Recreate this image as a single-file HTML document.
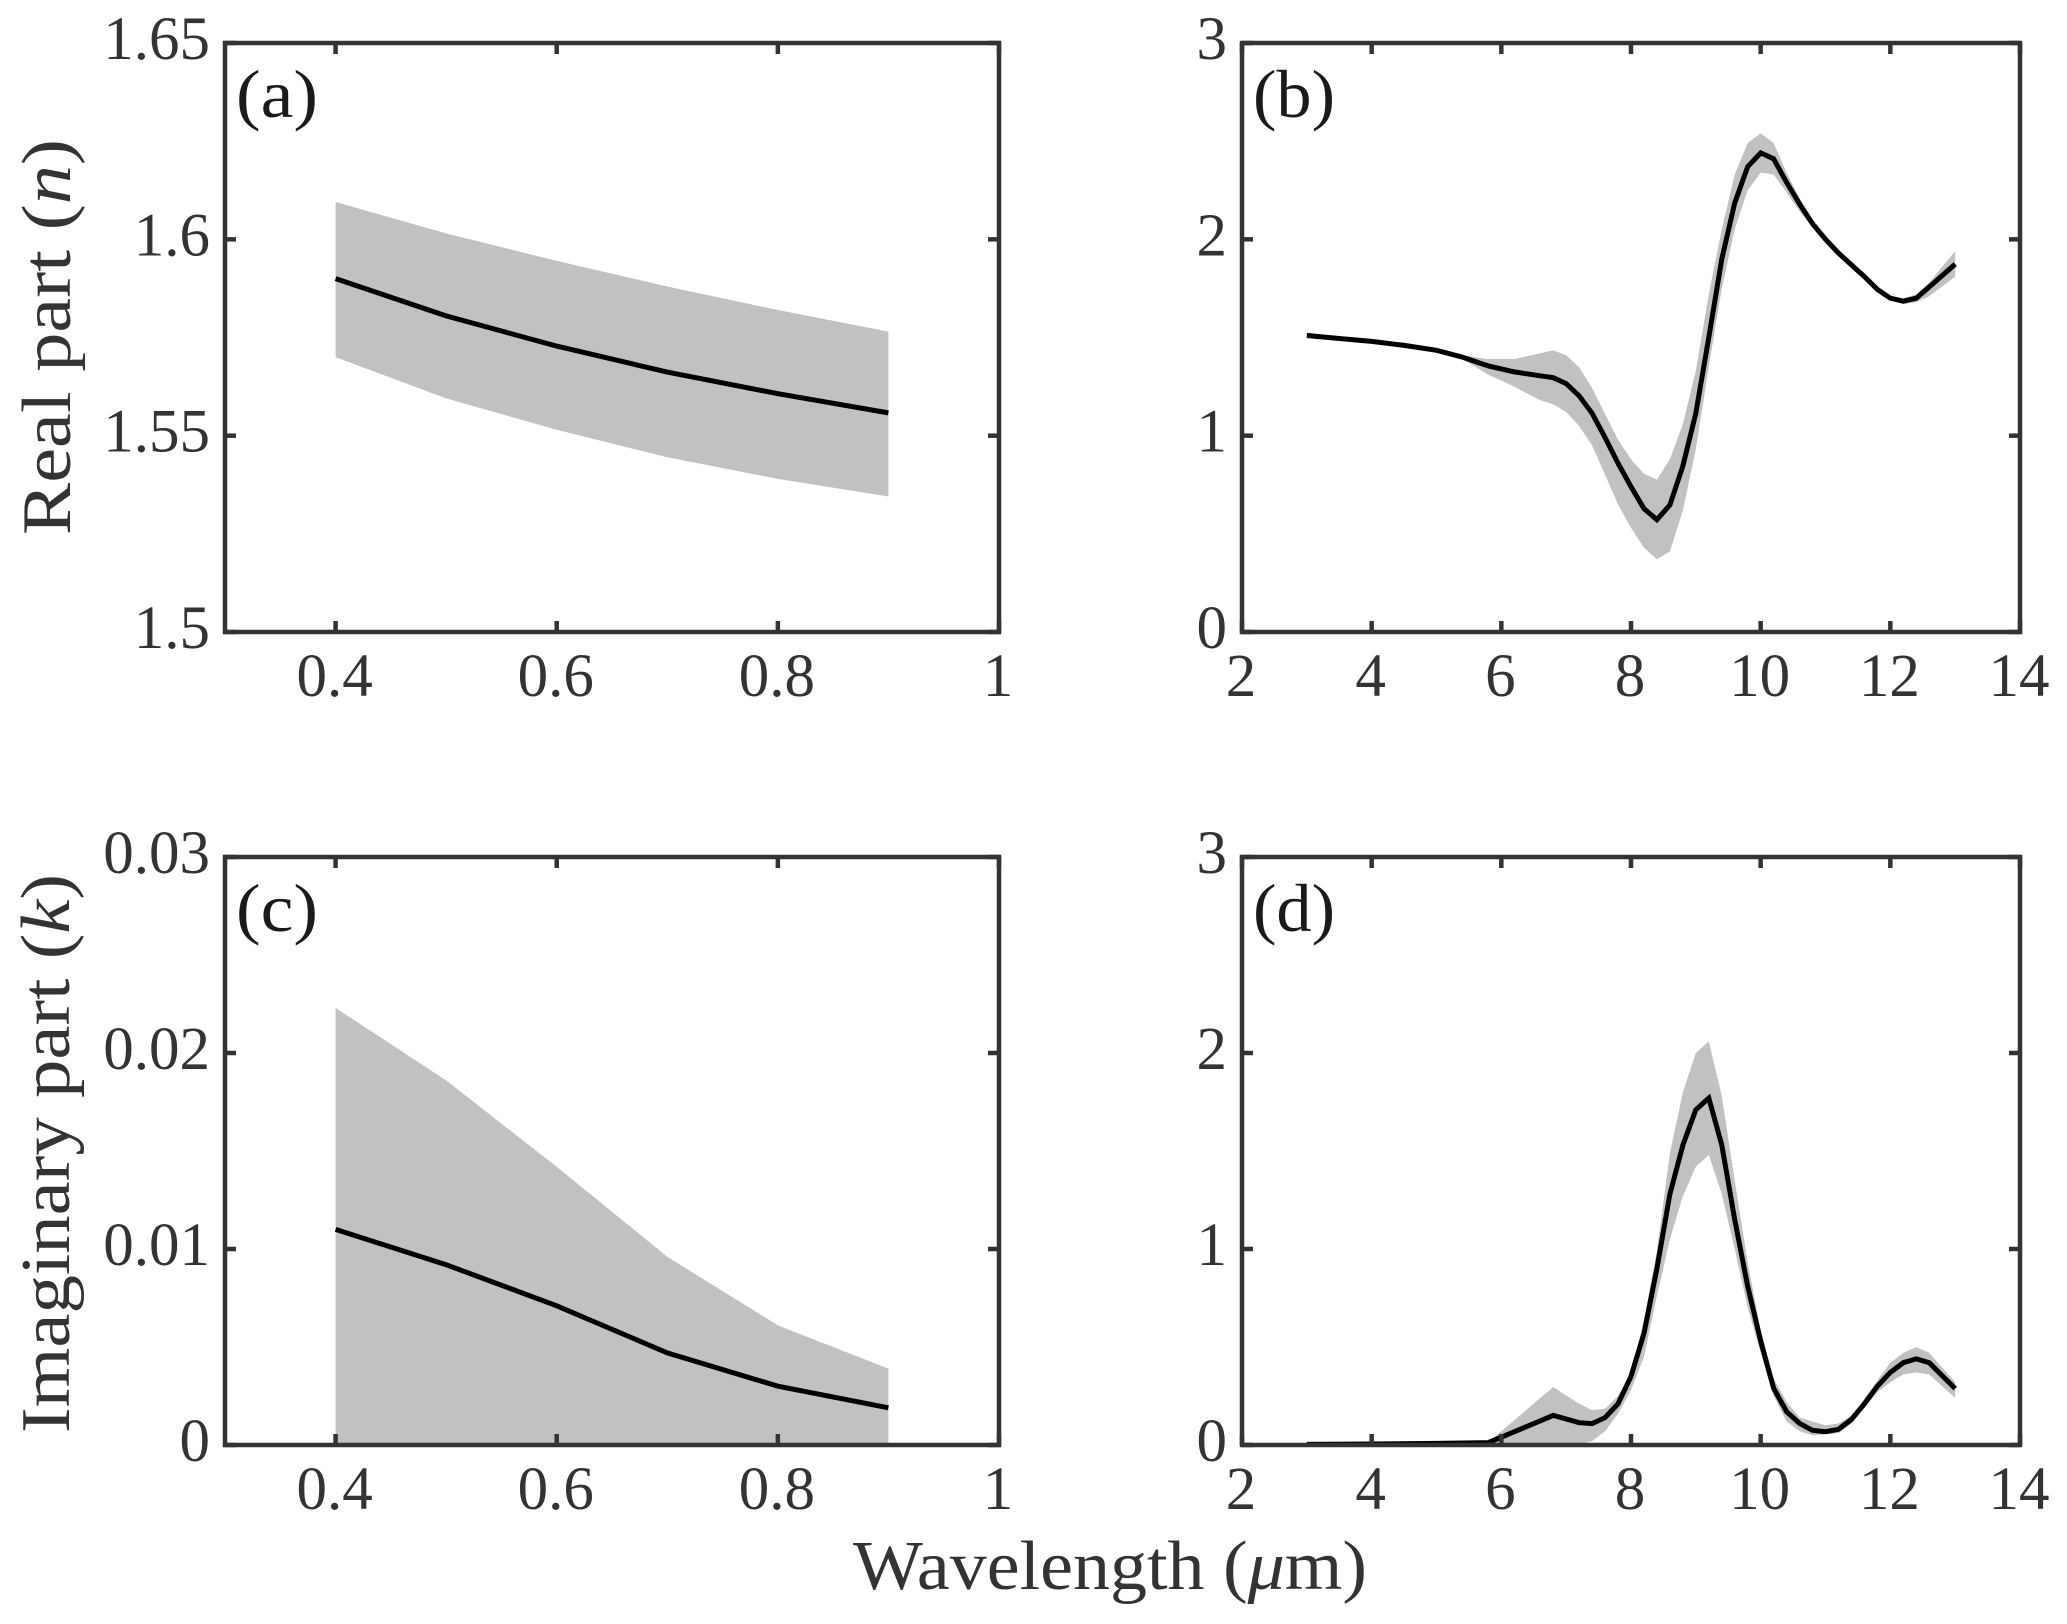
<!DOCTYPE html>
<html lang="en">
<head>
<meta charset="utf-8">
<title>Real and imaginary parts of refractive index</title>
<style>
  html, body { margin: 0; padding: 0; background: #fff; }
  svg { display: block; }
  text { font-family: "Liberation Serif", serif; }
</style>
</head>
<body>
<svg id="figure" xmlns="http://www.w3.org/2000/svg" width="2067" height="1624" viewBox="0 0 2067 1624"></svg>
<script>
// Panel (a) — real part, visible
const aWave  = [0.4, 0.5, 0.6, 0.7, 0.8, 0.9];
const aMean  = [1.590, 1.5805, 1.5728, 1.5662, 1.5607, 1.5558];
const aUpper = [1.6095, 1.6015, 1.5945, 1.588, 1.582, 1.5765];
const aLower = [1.570, 1.5595, 1.5515, 1.5445, 1.539, 1.5345];
const aXTicks = ["0.4", "0.6", "0.8", "1"];
const aYTicks = ["1.5", "1.55", "1.6", "1.65"];

// Panel (c) — imaginary part, visible
const cWave  = [0.4, 0.5, 0.6, 0.7, 0.8, 0.9];
const cMean  = [0.0110, 0.0092, 0.0071, 0.0047, 0.0030, 0.0019];
const cUpper = [0.0223, 0.0186, 0.0142, 0.0096, 0.0061, 0.0039];
const cLower = [0, 0, 0, 0, 0, 0];
const cXTicks = ["0.4", "0.6", "0.8", "1"];
const cYTicks = ["0", "0.01", "0.02", "0.03"];

// Panel (b) — real part, infrared
const bWave  = [3, 3.5, 4, 4.5, 5, 5.4, 5.8, 6.2, 6.6, 6.8, 7, 7.2, 7.4, 7.6, 7.8, 8, 8.2, 8.4, 8.6, 8.8, 9, 9.2, 9.4, 9.6, 9.8, 10, 10.2, 10.4, 10.6, 10.8, 11, 11.2, 11.4, 11.6, 11.8, 12, 12.2, 12.4, 12.6, 13];
const bMean  = [1.51, 1.495, 1.48, 1.46, 1.435, 1.40, 1.355, 1.325, 1.305, 1.295, 1.265, 1.203, 1.114, 0.99, 0.86, 0.74, 0.628, 0.572, 0.647, 0.846, 1.114, 1.5, 1.9, 2.185, 2.37, 2.44, 2.41, 2.29, 2.18, 2.08, 2.0, 1.93, 1.87, 1.81, 1.745, 1.70, 1.685, 1.70, 1.757, 1.874];
const bUpper = [1.525, 1.505, 1.49, 1.47, 1.445, 1.41, 1.39, 1.39, 1.42, 1.435, 1.41, 1.348, 1.243, 1.11, 0.98, 0.88, 0.806, 0.776, 0.88, 1.06, 1.33, 1.72, 2.05, 2.33, 2.49, 2.54, 2.49, 2.34, 2.21, 2.095, 2.01, 1.94, 1.88, 1.82, 1.76, 1.71, 1.70, 1.72, 1.78, 1.94];
const bLower = [1.50, 1.485, 1.47, 1.45, 1.425, 1.39, 1.31, 1.25, 1.18, 1.16, 1.12, 1.05, 0.95, 0.80, 0.65, 0.53, 0.43, 0.37, 0.41, 0.62, 0.93, 1.35, 1.75, 2.05, 2.25, 2.34, 2.33, 2.24, 2.14, 2.06, 1.99, 1.92, 1.86, 1.80, 1.74, 1.69, 1.67, 1.68, 1.71, 1.81];
const bXTicks = ["2", "4", "6", "8", "10", "12", "14"];
const bYTicks = ["0", "1", "2", "3"];

// Panel (d) — imaginary part, infrared
const dWave  = [3, 4, 5, 5.8, 6, 6.8, 7.2, 7.4, 7.6, 7.8, 8, 8.2, 8.4, 8.6, 8.8, 9, 9.2, 9.4, 9.6, 9.8, 10, 10.2, 10.4, 10.6, 10.8, 11, 11.2, 11.4, 11.6, 11.8, 12, 12.2, 12.4, 12.6, 13];
const dMean  = [0.003, 0.005, 0.008, 0.012, 0.04, 0.151, 0.114, 0.109, 0.14, 0.21, 0.35, 0.57, 0.90, 1.28, 1.53, 1.71, 1.77, 1.53, 1.15, 0.81, 0.53, 0.29, 0.17, 0.11, 0.075, 0.068, 0.08, 0.13, 0.21, 0.30, 0.37, 0.42, 0.44, 0.42, 0.288];
const dUpper = [0.004, 0.006, 0.009, 0.016, 0.07, 0.296, 0.21, 0.177, 0.185, 0.25, 0.365, 0.64, 0.99, 1.49, 1.80, 2.00, 2.06, 1.78, 1.35, 0.93, 0.585, 0.34, 0.22, 0.14, 0.12, 0.10, 0.11, 0.15, 0.235, 0.33, 0.42, 0.47, 0.50, 0.47, 0.32];
const dLower = [0.002, 0.004, 0.007, 0.008, 0.0, 0.0, 0.002, 0.02, 0.07, 0.16, 0.28, 0.45, 0.76, 1.05, 1.27, 1.42, 1.48, 1.28, 1.0, 0.70, 0.47, 0.25, 0.12, 0.07, 0.05, 0.055, 0.06, 0.11, 0.19, 0.27, 0.32, 0.36, 0.37, 0.36, 0.24];
const dXTicks = ["2", "4", "6", "8", "10", "12", "14"];
const dYTicks = ["0", "1", "2", "3"];

const NS = "http://www.w3.org/2000/svg";
const fig = document.getElementById("figure");
const AXIS = "#333333";
const TICKLEN = 11;

function el(tag, parent) {
  const e = document.createElementNS(NS, tag);
  parent.appendChild(e);
  return e;
}

function drawPanel(cfg) {
  const g = el("g", fig);
  
  

  const sx = v => cfg.left + (v - cfg.xMin) / (cfg.xMax - cfg.xMin) * (cfg.right - cfg.left);
  const sy = v => cfg.bottom - (v - cfg.yMin) / (cfg.yMax - cfg.yMin) * (cfg.bottom - cfg.top);

  // shaded uncertainty band
  const upperPts = cfg.wave.map((x, i) => sx(x).toFixed(1) + "," + sy(cfg.upper[i]).toFixed(1));
  const lowerPts = cfg.wave.map((x, i) => sx(x).toFixed(1) + "," + sy(cfg.lower[i]).toFixed(1)).reverse();
  const band = el("polygon", g);
  
  
  band.setAttribute("points", upperPts.concat(lowerPts).join(" "));
  band.setAttribute("fill", "#c1c1c1");

  // mean line
  const line = el("polyline", g);
  
  
  line.setAttribute("points", cfg.wave.map((x, i) => sx(x).toFixed(1) + "," + sy(cfg.mean[i]).toFixed(1)).join(" "));
  line.setAttribute("fill", "none");
  line.setAttribute("stroke", "#000");
  line.setAttribute("stroke-width", "5");
  line.setAttribute("stroke-linejoin", "miter");

  // frame
  const frame = el("rect", g);
  
  
  frame.setAttribute("x", cfg.left);
  frame.setAttribute("y", cfg.top);
  frame.setAttribute("width", cfg.right - cfg.left);
  frame.setAttribute("height", cfg.bottom - cfg.top);
  frame.setAttribute("fill", "none");
  frame.setAttribute("stroke", AXIS);
  frame.setAttribute("stroke-width", "4.5");

  // x ticks + labels
  cfg.xTicks.forEach(label => {
    const x = sx(parseFloat(label));
    [[cfg.bottom, cfg.bottom - TICKLEN], [cfg.top, cfg.top + TICKLEN]].forEach(p => {
      const t = el("line", g);
      
      
      t.setAttribute("x1", x);
      t.setAttribute("x2", x);
      t.setAttribute("y1", p[0]);
      t.setAttribute("y2", p[1]);
      t.setAttribute("stroke", AXIS);
      t.setAttribute("stroke-width", "4.5");
    });
    const tx = el("text", g);
    
    
    tx.setAttribute("x", x - 1);
    tx.setAttribute("y", cfg.bottom + cfg.xLabelDrop);
    tx.setAttribute("text-anchor", "middle");
    tx.setAttribute("font-size", "61");
    tx.setAttribute("fill", AXIS);
    tx.textContent = label;
  });

  // y ticks + labels
  cfg.yTicks.forEach(label => {
    const y = sy(parseFloat(label));
    [[cfg.left, cfg.left + TICKLEN], [cfg.right, cfg.right - TICKLEN]].forEach(p => {
      const t = el("line", g);
      
      
      t.setAttribute("x1", p[0]);
      t.setAttribute("x2", p[1]);
      t.setAttribute("y1", y);
      t.setAttribute("y2", y);
      t.setAttribute("stroke", AXIS);
      t.setAttribute("stroke-width", "4.5");
    });
    const ty = el("text", g);
    
    
    ty.setAttribute("x", cfg.left - 15);
    ty.setAttribute("y", y + 16);
    ty.setAttribute("text-anchor", "end");
    ty.setAttribute("font-size", "61");
    ty.setAttribute("fill", AXIS);
    ty.textContent = label;
  });

  // panel letter
  const letter = el("text", g);
  
  
  letter.setAttribute("x", cfg.left + 11);
  letter.setAttribute("y", cfg.top + 74);
  letter.setAttribute("font-size", "68");
  letter.setAttribute("fill", "#1a1a1a");
  letter.setAttribute("textLength", "82");
  letter.setAttribute("lengthAdjust", "spacingAndGlyphs");
  letter.textContent = "(" + cfg.id + ")";
}

drawPanel({ id: "a", left: 225, right: 999, top: 43, bottom: 632, xMin: 0.3, xMax: 1, yMin: 1.5, yMax: 1.65, wave: aWave, mean: aMean, upper: aUpper, lower: aLower, xTicks: aXTicks, yTicks: aYTicks, xLabelDrop: 64 });
drawPanel({ id: "b", left: 1242, right: 2020, top: 43, bottom: 632, xMin: 2, xMax: 14, yMin: 0, yMax: 3, wave: bWave, mean: bMean, upper: bUpper, lower: bLower, xTicks: bXTicks, yTicks: bYTicks, xLabelDrop: 64 });
drawPanel({ id: "c", left: 225, right: 999, top: 857, bottom: 1445, xMin: 0.3, xMax: 1, yMin: 0, yMax: 0.03, wave: cWave, mean: cMean, upper: cUpper, lower: cLower, xTicks: cXTicks, yTicks: cYTicks, xLabelDrop: 64 });
drawPanel({ id: "d", left: 1242, right: 2020, top: 857, bottom: 1445, xMin: 2, xMax: 14, yMin: 0, yMax: 3, wave: dWave, mean: dMean, upper: dUpper, lower: dLower, xTicks: dXTicks, yTicks: dYTicks, xLabelDrop: 64 });
</script>
<svg xmlns="http://www.w3.org/2000/svg" width="2067" height="1624" viewBox="0 0 2067 1624" style="position:absolute;left:0;top:0;">
  <text transform="translate(70,535) rotate(-90)" font-size="70" fill="#333333" textLength="396" lengthAdjust="spacingAndGlyphs">Real part (<tspan font-style="italic">n</tspan>)</text>
  <text transform="translate(69,1433) rotate(-90)" font-size="70" fill="#333333" textLength="559" lengthAdjust="spacingAndGlyphs">Imaginary part (<tspan font-style="italic">k</tspan>)</text>
  <text x="853" y="1589" font-size="70" fill="#333333" textLength="514" lengthAdjust="spacingAndGlyphs">Wavelength (<tspan font-style="italic">μ</tspan>m)</text>
</svg>
</body>
</html>
